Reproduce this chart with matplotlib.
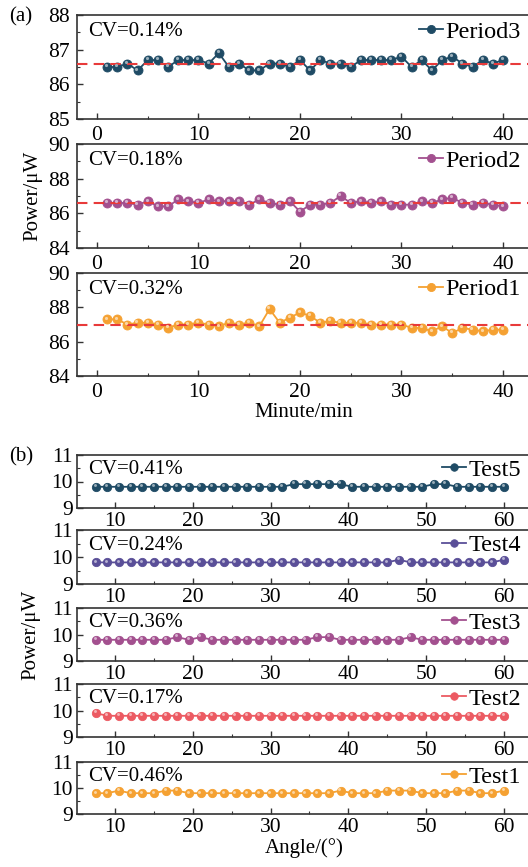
import numpy as np
import matplotlib
matplotlib.use("Agg")
import matplotlib.pyplot as plt
from matplotlib.ticker import MultipleLocator
from matplotlib.transforms import ScaledTranslation

plt.rcParams['font.family'] = ['Liberation Serif', 'DejaVu Serif']
plt.rcParams['font.size'] = 15

# ---- panel (a): power vs time ----
minutes = list(range(1, 41))
period3 = [86.5, 86.5, 86.6, 86.4, 86.7, 86.7, 86.5, 86.7, 86.7, 86.7,
           86.6, 86.9, 86.5, 86.6, 86.4, 86.4, 86.6, 86.6, 86.5, 86.7,
           86.4, 86.7, 86.6, 86.6, 86.5, 86.7, 86.7, 86.7, 86.7, 86.8,
           86.5, 86.7, 86.4, 86.7, 86.8, 86.6, 86.5, 86.7, 86.6, 86.7]
period2 = [86.6, 86.6, 86.6, 86.5, 86.7, 86.4, 86.4, 86.8, 86.7, 86.6,
           86.8, 86.7, 86.7, 86.7, 86.5, 86.8, 86.6, 86.5, 86.7, 86.1,
           86.5, 86.5, 86.6, 87.0, 86.6, 86.7, 86.6, 86.7, 86.5, 86.5,
           86.5, 86.7, 86.6, 86.8, 86.9, 86.6, 86.5, 86.6, 86.5, 86.4]
period1 = [87.3, 87.3, 87.0, 87.1, 87.1, 87.0, 86.8, 87.0, 87.0, 87.1,
           87.0, 86.9, 87.1, 87.0, 87.1, 86.9, 87.9, 87.1, 87.4, 87.7,
           87.5, 87.1, 87.2, 87.1, 87.1, 87.1, 87.0, 87.0, 87.0, 87.0,
           86.8, 86.8, 86.6, 86.9, 86.5, 86.8, 86.7, 86.6, 86.7, 86.7]
period_names = ['Period3', 'Period2', 'Period1']
period_cv = ['CV=0.14%', 'CV=0.18%', 'CV=0.32%']
period_mean = [86.6, 86.6, 87.0]

# ---- panel (b): power vs angle ----
angles = [7.5 + 1.5 * i for i in range(36)]
test5 = [9.8] * 17 + [9.9] * 5 + [9.8] * 7 + [9.9, 9.9] + [9.8] * 5
test4 = [9.8] * 26 + [9.9] + [9.8] * 8 + [9.9]
test3 = [9.8] * 7 + [9.9, 9.8, 9.9] + [9.8] * 9 + [9.9, 9.9] + [9.8] * 6 + [9.9] + [9.8] * 8
test2 = [9.9] + [9.8] * 35
test1 = [9.8, 9.8, 9.9, 9.8, 9.8, 9.8, 9.9, 9.9] + [9.8] * 13 + [9.9] + [9.8] * 3 + \
        [9.9, 9.9, 9.9] + [9.8] * 3 + [9.9, 9.9, 9.8, 9.8, 9.9]
test_names = ['Test5', 'Test4', 'Test3', 'Test2', 'Test1']
test_cv = ['CV=0.41%', 'CV=0.24%', 'CV=0.36%', 'CV=0.17%', 'CV=0.46%']

c_teal = '#1f4b65'
c_mag = '#a3508f'
c_orange = '#f5a132'
c_purple = '#5a4f98'
c_red = '#ec5a62'

W, H = 528, 867
fig = plt.figure(figsize=(W / 100, H / 100), dpi=100)

# the original figure is cropped on the right, so the right spine falls just outside
AX_LEFT, AX_RIGHT = 77, 531


def add_ax(top, bottom):
    return fig.add_axes([AX_LEFT / W, 1 - bottom / H, (AX_RIGHT - AX_LEFT) / W, (bottom - top) / H])


def light(c, f=0.55):
    rgb = np.array(matplotlib.colors.to_rgb(c))
    return tuple(rgb + (1 - rgb) * f)


def draw_series(ax, x, y, color, label, ms):
    ax.plot(x, y, '-o', color=color, lw=1.3, ms=ms, mec=color, mew=0.6,
            label=label, zorder=3)
    # small highlight on each ball
    hl = ax.transData + ScaledTranslation(-0.8 / 72, 1.2 / 72, fig.dpi_scale_trans)
    ax.plot(x, y, 'o', color=light(color), ms=ms * 0.35, mew=0, transform=hl, zorder=4)


def style_ax(ax):
    for s in ax.spines.values():
        s.set_color('#333333')
        s.set_linewidth(1.2)
    ax.tick_params(which='both', direction='in', top=False, right=False,
                   colors='#333333', labelcolor='black', labelsize=15.5)
    ax.tick_params(which='major', length=4, width=1.0, pad=5)
    ax.tick_params(which='minor', length=2.5, width=0.8)


def add_labels(ax, cv, yc):
    ax.text(0.025, yc, cv, transform=ax.transAxes, ha='left', va='center')
    xr = (521 - AX_LEFT) / (AX_RIGHT - AX_LEFT)
    ax.legend(loc='center right', bbox_to_anchor=(xr, yc), frameon=False,
              handlelength=1.0, handletextpad=0.1, borderaxespad=0.0, borderpad=0.0,
              markerscale=0.9, fontsize=17.5)


a_series = [period3, period2, period1]
a_colors = [c_teal, c_mag, c_orange]
a_rows = [(15, 119), (144, 248), (273, 376)]
for i in range(3):
    ax = add_ax(*a_rows[i])
    draw_series(ax, minutes, a_series[i], a_colors[i], period_names[i], 6.5)
    ax.axhline(period_mean[i], color='#e83a3a', lw=1.5, ls=(0, (5, 3)), zorder=3.5)
    ax.set_xlim(-1.97, 42.76)
    ax.xaxis.set_major_locator(MultipleLocator(10))
    ax.xaxis.set_minor_locator(MultipleLocator(5))
    if i == 0:
        ax.set_ylim(85, 88)
        ax.yaxis.set_major_locator(MultipleLocator(1))
        ax.yaxis.set_minor_locator(MultipleLocator(0.5))
    else:
        ax.set_ylim(84, 90)
        ax.yaxis.set_major_locator(MultipleLocator(2))
        ax.yaxis.set_minor_locator(MultipleLocator(1))
    style_ax(ax)
    add_labels(ax, period_cv[i], 0.84)
    if i == 1:
        ax.set_ylabel('Power/μW', labelpad=4)
    if i == 2:
        ax.set_xlabel('Minute/min', labelpad=1)

fig.text(9 / W, 1 - 17 / H, '(a)', ha='left', va='center')

b_series = [test5, test4, test3, test2, test1]
b_colors = [c_teal, c_purple, c_mag, c_red, c_orange]
b_rows = [(455, 508), (530, 584), (608, 661), (684, 737), (762, 814)]
for i in range(5):
    ax = add_ax(*b_rows[i])
    draw_series(ax, angles, b_series[i], b_colors[i], test_names[i], 6.0)
    ax.set_xlim(5.1, 63.5)
    ax.set_ylim(9, 11)
    ax.xaxis.set_major_locator(MultipleLocator(10))
    ax.xaxis.set_minor_locator(MultipleLocator(5))
    ax.yaxis.set_major_locator(MultipleLocator(1))
    ax.yaxis.set_minor_locator(MultipleLocator(0.5))
    style_ax(ax)
    ax.tick_params(which='major', pad=3)
    add_labels(ax, test_cv[i], 0.72)
    if i == 2:
        ax.set_ylabel('Power/μW', labelpad=8)
    if i == 4:
        ax.set_xlabel('Angle/(°)', labelpad=1)

fig.text(9 / W, 1 - 457 / H, '(b)', ha='left', va='center')

fig.savefig('out.png', dpi=100)
